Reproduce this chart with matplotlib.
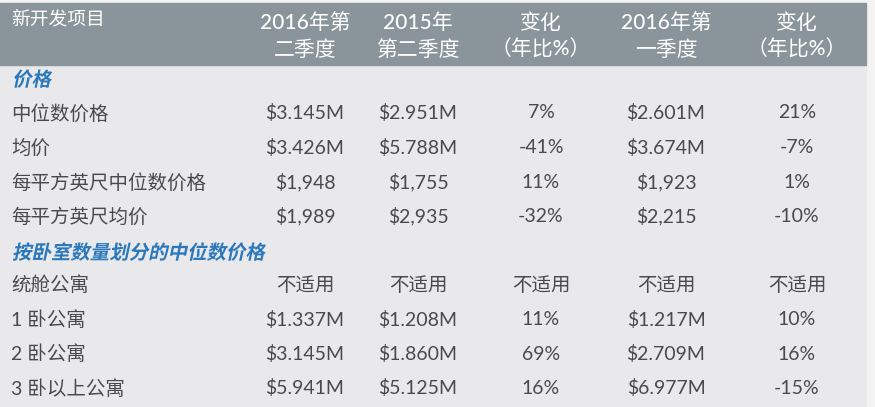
import matplotlib.pyplot as plt
from matplotlib.textpath import TextPath
from matplotlib.patches import PathPatch, Rectangle
from matplotlib.font_manager import FontProperties
from matplotlib.transforms import Affine2D

plt.rcParams['font.family'] = ['Lato', 'Noto Sans CJK SC', 'DejaVu Sans']

# header
corner_label = "新开发项目"
col_headers = ["2016年第\n二季度", "2015年\n第二季度", "变化\n（年比%）", "2016年第\n一季度", "变化\n（年比%）"]

# section 1: prices
section1 = "价格"
rows1 = ["中位数价格", "均价", "每平方英尺中位数价格", "每平方英尺均价"]
q2_2016_1 = ["$3.145M", "$3.426M", "$1,948", "$1,989"]
q2_2015_1 = ["$2.951M", "$5.788M", "$1,755", "$2,935"]
yoy_1 = ["7%", "-41%", "11%", "-32%"]
q1_2016_1 = ["$2.601M", "$3.674M", "$1,923", "$2,215"]
qoq_1 = ["21%", "-7%", "1%", "-10%"]

# section 2: median price by bedrooms
section2 = "按卧室数量划分的中位数价格"
rows2 = ["统舱公寓", "1 卧公寓", "2 卧公寓", "3 卧以上公寓"]
q2_2016_2 = ["不适用", "$1.337M", "$3.145M", "$5.941M"]
q2_2015_2 = ["不适用", "$1.208M", "$1.860M", "$5.125M"]
yoy_2 = ["不适用", "11%", "69%", "16%"]
q1_2016_2 = ["不适用", "$1.217M", "$2.709M", "$6.977M"]
qoq_2 = ["不适用", "10%", "16%", "-15%"]

W, H = 875, 407
fig = plt.figure(figsize=(W / 100, H / 100), dpi=100)
ax = fig.add_axes([0, 0, 1, 1])
ax.set_xlim(0, W)
ax.set_ylim(H, 0)
ax.axis('off')

band = '#8a949b'
bg = '#e9e9eb'
txt = '#4a4a4a'
blue = '#2b78bb'

ax.add_patch(Rectangle((0, 0), W, H, color='#f3f3f4', zorder=0))
ax.add_patch(Rectangle((0, 65), 866, H - 65, color=bg, zorder=1))
ax.add_patch(Rectangle((0, 3), 866, 62, color=band, zorder=1))

col_x = [305, 418, 541, 666, 797]
label_x = 11

ax.text(label_x, 19, corner_label, color='white', fontsize=13.5, va='center', ha='left',
        fontweight='medium', zorder=3)
for x, h in zip(col_x, col_headers):
    top, bot = h.split("\n")
    ax.text(x, 23, top, color='white', fontsize=15, va='center', ha='center',
            fontweight='medium', zorder=3)
    ax.text(x, 50, bot, color='white', fontsize=15, va='center', ha='center',
            fontweight='medium', zorder=3)

fp_sec = FontProperties(family='Noto Sans CJK SC', size=14, weight='bold')
px = 100 / 72


def italic_title(s, x, y_base):
    tp = TextPath((0, 0), s, prop=fp_sec)
    tr = Affine2D().skew_deg(12, 0).scale(px, -px).translate(x, y_base) + ax.transData
    ax.add_patch(PathPatch(tp, color=blue, lw=0, transform=tr, zorder=3))


def draw_rows(y0, labels, cols):
    for i, lab in enumerate(labels):
        y = y0 + i * 34.5
        ax.text(label_x, y, lab, color=txt, fontsize=14, va='center', ha='left', zorder=3)
        for x, col in zip(col_x, cols):
            ax.text(x, y, col[i], color=txt, fontsize=14, va='center', ha='center', zorder=3)


italic_title(section1, 12, 86)
draw_rows(113, rows1, [q2_2016_1, q2_2015_1, yoy_1, q1_2016_1, qoq_1])
italic_title(section2, 12, 259)
draw_rows(285, rows2, [q2_2016_2, q2_2015_2, yoy_2, q1_2016_2, qoq_2])

fig.savefig('out.png', dpi=100)
